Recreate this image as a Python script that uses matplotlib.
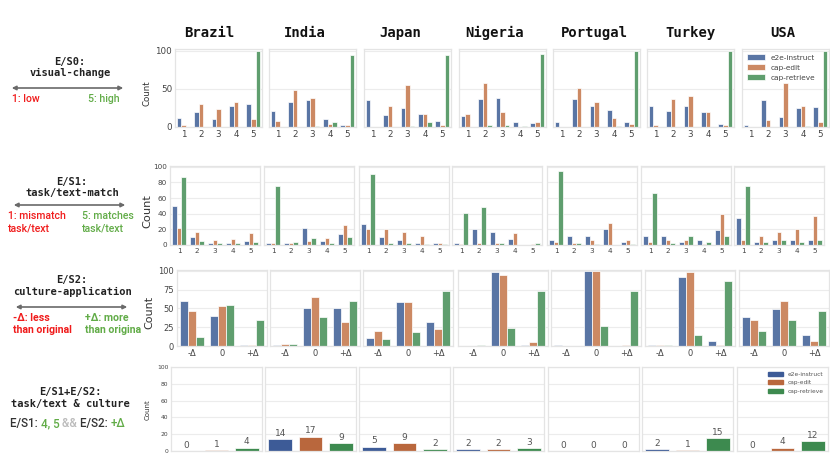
import matplotlib
matplotlib.use("Agg")
import matplotlib.pyplot as plt
import numpy as np
from matplotlib.patches import FancyArrowPatch, Patch
from matplotlib.transforms import Bbox

# ---------------- data ----------------
countries = ["Brazil", "India", "Japan", "Nigeria", "Portugal", "Turkey", "USA"]
models = ["e2e-instruct", "cap-edit", "cap-retrieve"]
s0_levels = ["1", "2", "3", "4", "5"]
s1_levels = ["1", "2", "3", "4", "5"]
s2_levels = ["-Δ", "0", "+Δ"]

# E/S0 visual-change (per country, levels 1..5)
s0_e2e = [[12, 19, 11, 28, 30], [21, 33, 35, 10, 2], [35, 16, 25, 17, 8], [14, 36, 38, 6, 5],
          [7, 36, 27, 22, 6], [27, 21, 28, 20, 4], [2, 35, 13, 25, 26]]
s0_edit = [[3, 30, 24, 33, 11], [8, 49, 38, 4, 2], [0, 27, 55, 17, 2], [17, 57, 20, 0, 6],
           [0, 51, 33, 12, 4], [2, 36, 41, 19, 2], [0, 9, 57, 28, 7]]
s0_retr = [[0, 0, 0, 0, 100], [0, 0, 1, 6, 94], [0, 0, 1, 6, 94], [0, 2, 2, 1, 95],
           [0, 0, 0, 1, 99], [0, 0, 0, 0, 100], [0, 0, 0, 1, 100]]

# E/S1 task/text-match
s1_e2e = [[50, 10, 2, 3, 5], [2, 2, 22, 5, 14], [27, 10, 6, 2, 3], [2, 21, 16, 8, 0],
          [6, 12, 11, 20, 4], [11, 11, 4, 6, 19], [35, 4, 6, 7, 7]]
s1_edit = [[22, 16, 6, 8, 15], [2, 2, 5, 9, 26], [20, 21, 17, 12, 2], [1, 2, 3, 15, 1],
           [4, 2, 6, 28, 6], [4, 7, 6, 1, 40], [6, 11, 16, 21, 37]]
s1_retr = [[87, 5, 2, 3, 4], [75, 4, 9, 3, 10], [91, 2, 3, 1, 1], [41, 49, 3, 0, 3],
           [94, 2, 1, 0, 1], [67, 3, 12, 4, 11], [76, 4, 6, 4, 7]]

# E/S2 culture-application (-Δ, 0, +Δ)
s2_e2e = [[60, 40, 1], [1, 50, 50], [10, 59, 32], [0, 98, 1], [1, 100, 0], [1, 92, 6], [38, 49, 14]]
s2_edit = [[47, 53, 1], [3, 65, 32], [20, 58, 22], [0, 94, 5], [0, 100, 1], [1, 98, 1], [34, 60, 6]]
s2_retr = [[12, 54, 35], [2, 38, 60], [9, 19, 73], [1, 24, 73], [0, 26, 73], [1, 14, 86], [20, 34, 47]]

# E/S1 + E/S2 combined counts
s12_e2e = [0, 14, 5, 2, 0, 2, 0]
s12_edit = [1, 17, 9, 2, 0, 1, 4]
s12_retr = [4, 9, 2, 3, 0, 15, 12]

# ---------------- style ----------------
W, H = 830, 467
fig = plt.figure(figsize=(W / 100, H / 100), dpi=100)
fig.patch.set_facecolor("white")

pal = ["#5975a4", "#cc8963", "#5f9e6e"]
pal_dark = ["#3d5b97", "#b9673d", "#3d8a4f"]
RED = "#f01c1c"
GREEN = "#62ac48"
MONO = "DejaVu Sans Mono"
SANS = "Roboto"


def add_ax(left, top, width, bottom):
    return fig.add_axes([left / W, 1 - bottom / H, width / W, (bottom - top) / H])


def style(ax, yticks, ylim, fs, show_y):
    ax.set_facecolor("white")
    for s in ax.spines.values():
        s.set_color("#e4e4e4")
        s.set_linewidth(0.9)
    ax.set_axisbelow(True)
    ax.yaxis.grid(True, color="#ececec", lw=0.8)
    ax.xaxis.grid(False)
    ax.set_yticks(yticks)
    ax.set_ylim(*ylim)
    ax.tick_params(length=0, labelsize=fs, colors="#444", pad=2)
    if not show_y:
        ax.set_yticklabels([])


def grouped(ax, levels, series):
    n = len(levels)
    x = np.arange(n)
    w = 0.8 / 3
    for i, vals in enumerate(series):
        ax.bar(x + (i - 1) * w, vals, width=w, color=pal[i], edgecolor="white",
               linewidth=0.5, label=models[i])
    ax.set_xticks(x)
    ax.set_xticklabels(levels)
    ax.set_xlim(-0.5, n - 0.5)


r1_left = [175, 269, 364, 459, 553, 647, 742]
r2_left = [170, 264, 359, 452, 547, 641, 734]
r3_left = [177, 270, 363, 458, 551, 645, 739]
r4_left = [171, 265, 359, 453, 548, 642, 737]

# Row 1
for c in range(7):
    ax = add_ax(r1_left[c], 49, 87, 127)
    grouped(ax, s0_levels, [s0_e2e[c], s0_edit[c], s0_retr[c]])
    style(ax, [0, 50, 100], (0, 102), 6.3, c == 0)
    if c == 6:
        ax.legend(loc="upper left", fontsize=5.3, frameon=False, handlelength=2.4,
                  handleheight=0.8, labelspacing=0.5, borderaxespad=0.3,
                  labelcolor="#444")

# Row 2
for c in range(7):
    ax = add_ax(r2_left[c], 166, 90, 245)
    grouped(ax, s1_levels, [s1_e2e[c], s1_edit[c], s1_retr[c]])
    style(ax, [0, 20, 40, 60, 80, 100], (0, 101), 5.2, c == 0)

# Row 3
for c in range(7):
    ax = add_ax(r3_left[c], 270, 90, 346)
    grouped(ax, s2_levels, [s2_e2e[c], s2_edit[c], s2_retr[c]])
    style(ax, [0, 25, 50, 75, 100], (0, 101), 6.0, c == 0)

# Row 4
for c in range(7):
    ax = add_ax(r4_left[c], 367, 91, 451)
    vals = [s12_e2e[c], s12_edit[c], s12_retr[c]]
    x = np.arange(3)
    bars = ax.bar(x, vals, width=0.78, color=pal_dark, edgecolor="white", linewidth=0.5)
    ax.bar_label(bars, padding=1, fontsize=6.5, color="#555")
    ax.set_xticks([])
    ax.set_xlim(-0.5, 2.5)
    style(ax, [0, 20, 40, 60, 80, 100], (0, 100), 4.3, c == 0)
    if c == 6:
        handles = [Patch(color=pal_dark[i], label=models[i]) for i in range(3)]
        ax.legend(handles=handles, loc="upper right", fontsize=4.2, frameon=False,
                  handlelength=2.6, handleheight=0.7, labelspacing=0.6,
                  borderaxespad=0.4, labelcolor="#555")

# Country titles
title_x = [209, 305, 400, 495, 594, 690, 783]
for name, tx in zip(countries, title_x):
    fig.text(tx / W, 1 - 33 / H, name, ha="center", va="center", family=MONO,
             weight="bold", size=10, color="#111")

# "Count" labels
for (x, y, fs) in [(147, 93, 6.2), (147, 211, 8.2), (149, 312, 8.0), (148, 410, 5.0)]:
    fig.text(x / W, 1 - y / H, "Count", rotation=90, ha="center", va="center",
             size=fs, color="#333")


def arrow(x0, x1, y):
    a = FancyArrowPatch((x0 / W, 1 - y / H), (x1 / W, 1 - y / H), arrowstyle="<|-|>",
                        mutation_scale=6, color="#6a6a6a", lw=1.2,
                        transform=fig.transFigure)
    fig.add_artist(a)


def ftxt(x, y, s, **kw):
    return fig.text(x / W, 1 - y / H, s, **kw)


mono_kw = dict(ha="center", va="center", family=MONO, weight="bold", size=7.5, color="#222")
lab_kw = dict(va="center", family=SANS, weight="medium", size=7.6)
lab3_kw = dict(va="center", family=SANS, weight="bold", size=7.6)

# Row 1 side labels
ftxt(70, 62, "E/S0:", **mono_kw)
ftxt(70, 73, "visual-change", **mono_kw)
arrow(9, 126, 88)
ftxt(12, 99, "1: low", ha="left", color=RED, **lab_kw)
ftxt(120, 99, "5: high", ha="right", color=GREEN, **lab_kw)

# Row 2 side labels
ftxt(72, 182, "E/S1:", **mono_kw)
ftxt(72, 193, "task/text-match", **mono_kw)
arrow(11, 128, 205)
ftxt(8, 216, "1: mismatch", ha="left", color=RED, **lab_kw)
ftxt(8, 228, "task/text", ha="left", color=RED, **lab_kw)
ftxt(82, 216, "5: matches", ha="left", color=GREEN, **lab_kw)
ftxt(82, 228, "task/text", ha="left", color=GREEN, **lab_kw)

# Row 3 side labels
ftxt(72, 280, "E/S2:", **mono_kw)
ftxt(72, 292, "culture-application", **mono_kw)
arrow(13, 130, 307)
ftxt(13, 318, "-Δ: less", ha="left", color=RED, **lab3_kw)
ftxt(13, 330, "than original", ha="left", color=RED, **lab3_kw)
ftxt(85, 318, "+Δ: more", ha="left", color=GREEN, **lab3_kw)
t = ftxt(85, 330, "than original", ha="left", color=GREEN, **lab3_kw)
t.set_clip_box(Bbox.from_extents(0, 0, 141, H))
t.set_clip_on(True)

# Row 4 side labels
ftxt(70, 392, "E/S1+E/S2:", **mono_kw)
ftxt(70, 404, "task/text & culture", **mono_kw)

axbg = fig.add_axes([0, 0, 1, 1], zorder=-1)
axbg.axis("off")
parts = [("E/S1: ", "#333"), ("4, 5", GREEN), (" && ", "#bbbbbb"), ("E/S2: ", "#333"), ("+Δ", GREEN)]
prev = axbg.text(10 / W, 1 - 430 / H, parts[0][0], color=parts[0][1], family=SANS,
                 weight="medium", size=8.4, va="bottom", ha="left")
for s, col in parts[1:]:
    prev = axbg.annotate(s, xy=(1, 0), xycoords=prev, va="bottom", ha="left",
                         color=col, family=SANS, weight="medium", size=8.4)

fig.savefig("out.png", dpi=100)
